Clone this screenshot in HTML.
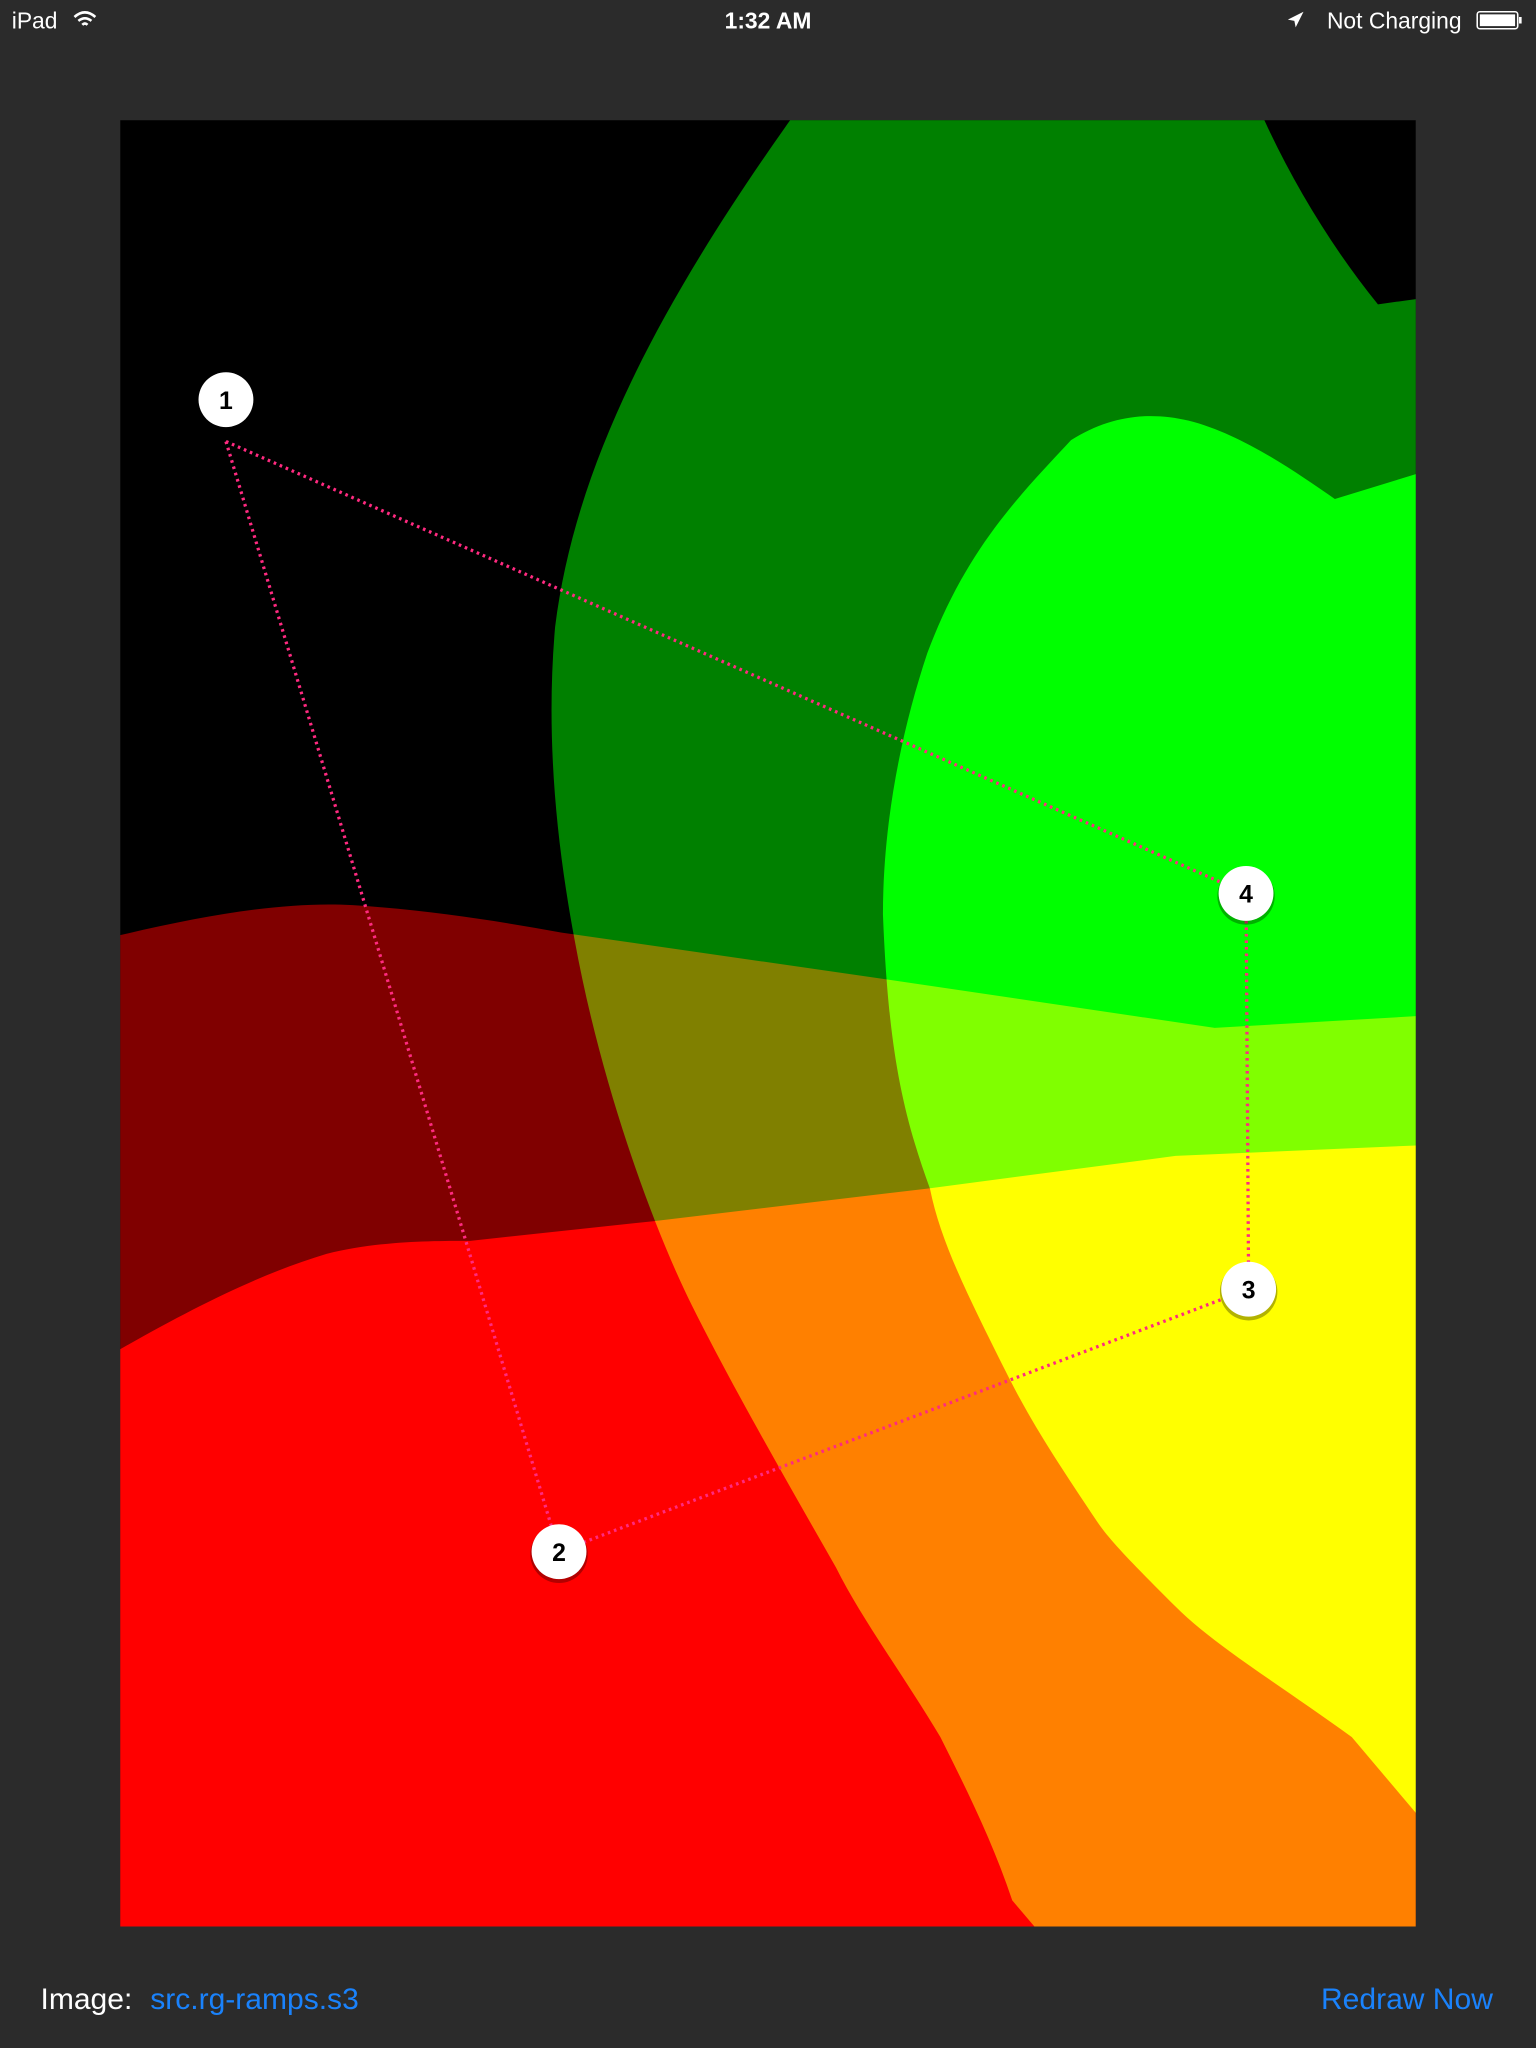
<!DOCTYPE html>
<html><head><meta charset="utf-8"><style>
html,body{margin:0;padding:0;background:#2b2b2b;width:1536px;height:2048px;overflow:hidden}
svg{display:block}
text{font-family:"Liberation Sans",sans-serif}
</style></head><body>
<svg id="s" width="1536" height="2048" viewBox="0 0 1176 1568" xmlns="http://www.w3.org/2000/svg">
<rect width="1176" height="1568" fill="#2b2b2b"/>
<g>
<text x="9" y="22" font-size="17.5" fill="#fff">iPad</text>
<path d="M57 13 q8 -7 16 0 M60 16 q5 -4 10 0 M63 19 q2 -2 4 0" stroke="#fff" stroke-width="2" fill="none"/>
<text x="588" y="22" font-size="17.5" font-weight="bold" fill="#fff" text-anchor="middle">1:32 AM</text>
<path d="M986 15 L998 9 L992 21 L991 16 Z" fill="#fff"/>
<text x="1119" y="22" font-size="17.5" fill="#fff" text-anchor="end">Not Charging</text>
<rect x="1131" y="9" width="31" height="13" rx="2" fill="none" stroke="#fff" stroke-width="1.2"/>
<rect x="1133" y="11" width="27" height="9" fill="#fff"/>
<rect x="1163" y="13" width="2" height="5" fill="#fff"/>
</g>
<clipPath id="cp"><rect x="92" y="92" width="992" height="1383"/></clipPath>
<g clip-path="url(#cp)">
<rect x="92" y="92" width="992" height="1383" fill="#000"/>
<g>
<path d="M92 716 C160 700 220 690 270 693 C330 697 380 705 430 714 L680 750 L930 787 L1084 778 L1084 1475 L92 1475 Z" fill="#800000"/>
<path d="M92 1033 C150 1000 200 975 250 960 C290 950 330 950 360 950 L500 935 L710 910 L900 885 L1084 877 L1084 1475 L92 1475 Z" fill="#ff0000"/>
</g>
<g style="mix-blend-mode:lighten">
<path d="M605 92 L968 92 C990 140 1020 190 1055 233 L1084 229 L1084 1475 L792 1475 L775 1455 C760 1410 740 1370 720 1330 C690 1280 660 1240 640 1200 C600 1130 560 1060 530 1000 C500 940 460 830 440 720 C425 640 418 560 425 480 C440 360 500 240 605 92 Z" fill="#008000"/>
<path d="M820 337 C850 318 880 315 910 322 C950 332 990 360 1022 382 L1084 363 L1084 1388 L1035 1330 C980 1290 930 1260 900 1230 C870 1200 850 1180 840 1165 C810 1120 790 1090 770 1050 C740 990 720 950 712 910 C690 850 680 800 676 700 C676 630 690 560 710 500 C740 420 780 380 820 337 Z" fill="#00ff00"/>
</g>
</g>
<g id="overlay"></g>
<text x="31" y="1538" font-size="23" fill="#fff">Image:</text>
<text x="115" y="1538" font-size="23" fill="#1a82fb">src.rg-ramps.s3</text>
<text x="1143" y="1538" font-size="23" fill="#1a82fb" text-anchor="end">Redraw Now</text>
</svg>
<script>
const pointLabels = ["1","2","3","4"];
const pointX = [173, 428, 956, 954];
const pointY = [306, 1188, 987, 684];
const edgesFrom = [0, 0, 1, 2];
const edgesTo = [3, 1, 2, 3];
const NS = "http://www.w3.org/2000/svg";
const g = document.getElementById('overlay');
for (let i = 0; i < edgesFrom.length; i++) {
  const a = edgesFrom[i], b = edgesTo[i];
  const l = document.createElementNS(NS, 'line');
  l.setAttribute('x1', pointX[a]); l.setAttribute('y1', pointY[a] + (a===0?32:0));
  l.setAttribute('x2', pointX[b]); l.setAttribute('y2', pointY[b]);
  l.setAttribute('stroke', '#ff2a80'); l.setAttribute('stroke-width', '2.5');
  l.setAttribute('stroke-dasharray', '2 3');
  
  
  g.appendChild(l);
}
for (let i = 0; i < pointX.length; i++) {
  const sh = document.createElementNS(NS, 'circle');
  sh.setAttribute('cx', pointX[i]); sh.setAttribute('cy', pointY[i] + 2);
  sh.setAttribute('r', 22); sh.setAttribute('fill', 'rgba(0,0,0,0.3)');
  
  
  g.appendChild(sh);
  const c = document.createElementNS(NS, 'circle');
  c.setAttribute('cx', pointX[i]); c.setAttribute('cy', pointY[i]);
  c.setAttribute('r', 21); c.setAttribute('fill', '#fff');
  
  
  g.appendChild(c);
  const t = document.createElementNS(NS, 'text');
  t.setAttribute('x', pointX[i]); t.setAttribute('y', pointY[i] + 7);
  t.setAttribute('text-anchor', 'middle'); t.setAttribute('font-size', '19');
  t.setAttribute('font-weight', 'bold'); t.setAttribute('fill', '#000');
  t.textContent = pointLabels[i];
  
  
  g.appendChild(t);
}
</script>
</body></html>
